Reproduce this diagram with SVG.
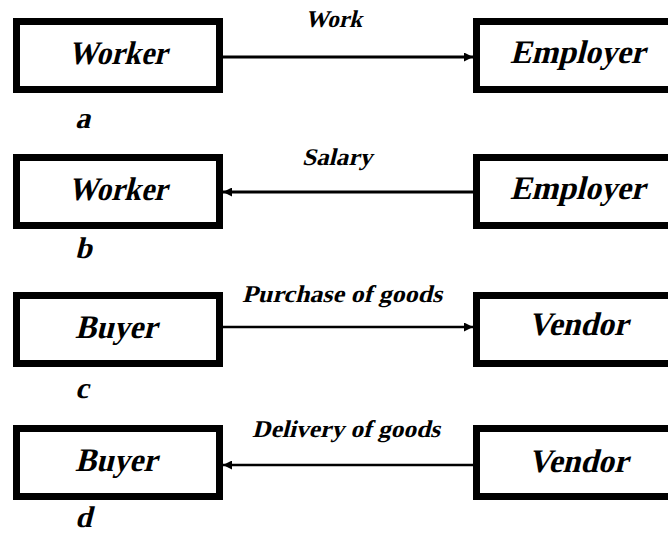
<svg xmlns="http://www.w3.org/2000/svg" width="668" height="535" viewBox="0 0 668 535">
  <style>
    .box { fill: #ffffff; stroke: #000000; stroke-width: 7; }
    .link { stroke: #000; fill: none; }
    text { font-family: 'Liberation Serif', 'Times New Roman', serif; font-weight: bold; font-style: normal; fill: #000; }
    .name { font-size: 33px; text-anchor: middle; }
    .flow { font-size: 24px; text-anchor: middle; }
    .tag { font-size: 30px; }
  </style>
  <defs>
    <marker id="head" viewBox="0 0 10 10" refX="10" refY="5" markerUnits="userSpaceOnUse" markerWidth="9" markerHeight="9" orient="auto">
      <path d="M0,0 L10,5 L0,10 Z" fill="#000"/>
    </marker>
  </defs>
  <rect width="668" height="535" fill="#ffffff"/>

  <!-- slanted lettering: each label is placed by translate, then sheared -->
  <g id="connectors">
    <line class="link" x1="223" y1="57" x2="473" y2="57" stroke-width="3" marker-end="url(#head)"/>
    <line class="link" x1="473" y1="192" x2="223" y2="192" stroke-width="3" marker-end="url(#head)"/>
    <line class="link" x1="223" y1="327" x2="473" y2="327" stroke-width="2.5" marker-end="url(#head)"/>
    <line class="link" x1="473" y1="465" x2="223" y2="465" stroke-width="2.5" marker-end="url(#head)"/>
    <text class="flow" transform="translate(333.5,27) skewX(-14)" textLength="57" lengthAdjust="spacingAndGlyphs">Work</text>
    <text class="flow" transform="translate(337,165) skewX(-14)" textLength="70" lengthAdjust="spacingAndGlyphs">Salary</text>
    <text class="flow" transform="translate(342,302) skewX(-14)" textLength="200" lengthAdjust="spacingAndGlyphs">Purchase of goods</text>
    <text class="flow" transform="translate(346,437) skewX(-14)" textLength="188" lengthAdjust="spacingAndGlyphs">Delivery of goods</text>
  </g>

  <!-- a -->
  <g id="worker-a">
    <rect class="box" x="16.5" y="21.5" width="203" height="68"/>
    <text class="name" transform="translate(117.5,64) skewX(-14)" textLength="99" lengthAdjust="spacingAndGlyphs">Worker</text>
  </g>
  <g id="employer-a">
    <rect class="box" x="476.5" y="21.5" width="210" height="68"/>
    <text class="name" transform="translate(577.5,63) skewX(-14)" textLength="135" lengthAdjust="spacingAndGlyphs">Employer</text>
  </g>

  <!-- b -->
  <g id="worker-b">
    <rect class="box" x="16.5" y="157.5" width="203" height="68"/>
    <text class="name" transform="translate(117.5,200) skewX(-14)" textLength="99" lengthAdjust="spacingAndGlyphs">Worker</text>
  </g>
  <g id="employer-b">
    <rect class="box" x="476.5" y="157.5" width="210" height="68"/>
    <text class="name" transform="translate(577.5,199) skewX(-14)" textLength="135" lengthAdjust="spacingAndGlyphs">Employer</text>
  </g>

  <!-- c -->
  <g id="buyer-c">
    <rect class="box" x="16.5" y="295.5" width="203" height="68"/>
    <text class="name" transform="translate(116,338) skewX(-14)" textLength="82" lengthAdjust="spacingAndGlyphs">Buyer</text>
  </g>
  <g id="vendor-c">
    <rect class="box" x="476.5" y="295.5" width="210" height="68"/>
    <text class="name" transform="translate(578,335) skewX(-14)" textLength="100" lengthAdjust="spacingAndGlyphs">Vendor</text>
  </g>

  <!-- d -->
  <g id="buyer-d">
    <rect class="box" x="16.5" y="428.5" width="203" height="68"/>
    <text class="name" transform="translate(116,471) skewX(-14)" textLength="82" lengthAdjust="spacingAndGlyphs">Buyer</text>
  </g>
  <g id="vendor-d">
    <rect class="box" x="476.5" y="428.5" width="210" height="68"/>
    <text class="name" transform="translate(578,472) skewX(-14)" textLength="100" lengthAdjust="spacingAndGlyphs">Vendor</text>
  </g>

  <!-- panel letters -->
  <text class="tag" transform="translate(75,128) skewX(-14)">a</text>
  <text class="tag" transform="translate(75,258) skewX(-14)">b</text>
  <text class="tag" transform="translate(75,398) skewX(-14)">c</text>
  <text class="tag" transform="translate(75,527) skewX(-14)">d</text>
</svg>
